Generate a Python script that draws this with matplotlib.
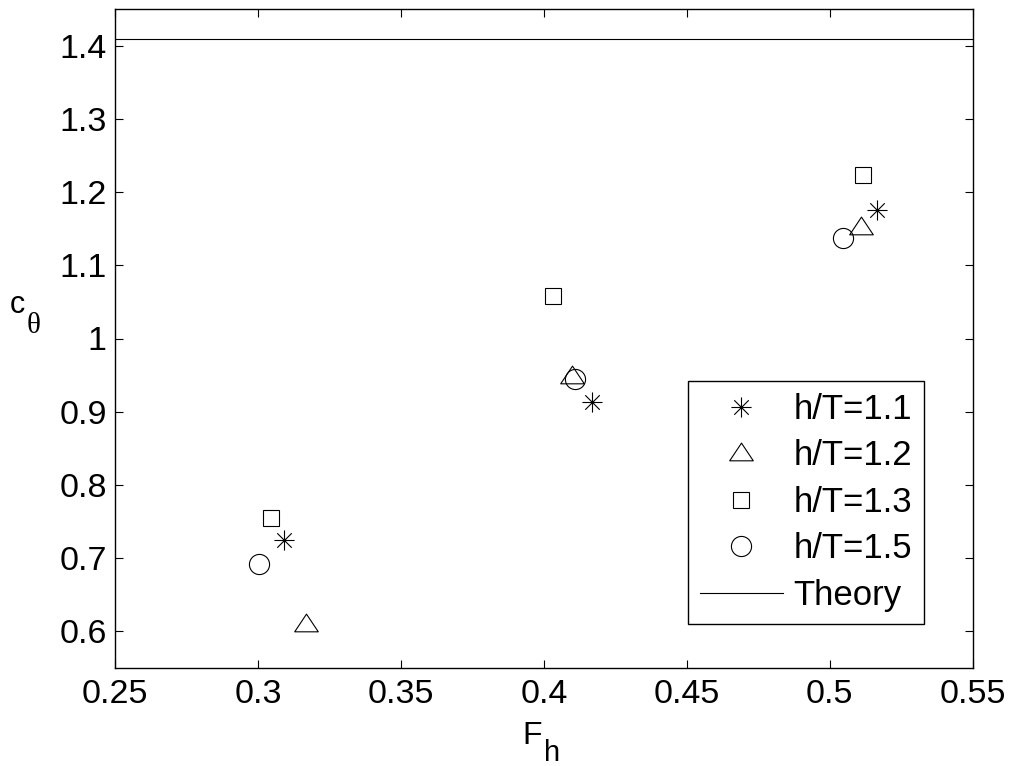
"""Recreation of the c_theta vs F_h scatter with theory line."""

import matplotlib

matplotlib.use("Agg")
import matplotlib.pyplot as plt
from matplotlib.path import Path
from matplotlib.ticker import FuncFormatter

# data
fh_11 = [0.309, 0.417, 0.5167]
c_11 = [0.724, 0.913, 1.175]

fh_12 = [0.3167, 0.410, 0.5108]
c_12 = [0.610, 0.949, 1.153]

fh_13 = [0.3047, 0.4033, 0.5115]
c_13 = [0.754, 1.0586, 1.224]

fh_15 = [0.3005, 0.4109, 0.5045]
c_15 = [0.692, 0.945, 1.137]

theory_c = 1.41
labels = ["h/T=1.1", "h/T=1.2", "h/T=1.3", "h/T=1.5", "Theory"]

W, H = 1011, 766
plt.rcParams["font.family"] = ["Liberation Sans", "DejaVu Sans"]

# MATLAB-style asterisk and wide triangle
d = 0.72
asterisk = Path(
    [(-1, 0), (1, 0), (0, -1), (0, 1), (-d, -d), (d, d), (-d, d), (d, -d)],
    [Path.MOVETO, Path.LINETO] * 4,
)
triangle = Path(
    [(-1, -0.62), (1, -0.62), (0, 0.88), (-1, -0.62)],
    [Path.MOVETO, Path.LINETO, Path.LINETO, Path.CLOSEPOLY],
)

fig = plt.figure(figsize=(W / 100, H / 100), dpi=100)
ax = fig.add_axes([115 / W, 1 - 667.7 / H, (972.7 - 115) / W, (667.7 - 9.3) / H])

style = dict(linestyle="none", color="black", markerfacecolor="none", markeredgewidth=0.8)
ax.plot(fh_11, c_11, marker=asterisk, markersize=14.5, label=labels[0], **style)
ax.plot(fh_12, c_12, marker=triangle, markersize=17, label=labels[1], **style)
ax.plot(fh_13, c_13, marker="s", markersize=12, label=labels[2], **style)
ax.plot(fh_15, c_15, marker="o", markersize=14.5, label=labels[3], **style)
ax.axhline(theory_c, color="black", linewidth=0.8, label=labels[4])

ax.set_xlim(0.25, 0.55)
ax.set_ylim(0.55, 1.45)
ax.set_xticks([0.25, 0.3, 0.35, 0.4, 0.45, 0.5, 0.55])
ax.set_yticks([0.6, 0.7, 0.8, 0.9, 1.0, 1.1, 1.2, 1.3, 1.4])
ax.xaxis.set_major_formatter(FuncFormatter(lambda v, _: f"{v:g}"))
ax.yaxis.set_major_formatter(FuncFormatter(lambda v, _: f"{v:g}"))
ax.tick_params(direction="in", length=6, width=0.8, labelsize=24.5,
               top=True, right=True)
ax.tick_params(axis="x", pad=8)
ax.tick_params(axis="y", pad=6)
for spine in ax.spines.values():
    spine.set_linewidth(1.0)

# axis labels with MATLAB-like large, low subscripts
fig.text(10 / W, 1 - 313 / H, "c", fontsize=22, ha="left", va="baseline")
fig.text(27 / W, 1 - 333 / H, "\u03b8", fontsize=21, ha="left", va="baseline",
         family=["Liberation Serif", "DejaVu Serif"])
fig.text(522 / W, 1 - 744 / H, "F", fontsize=23, ha="left", va="baseline")
fig.text(544 / W, 1 - 761 / H, "h", fontsize=21, ha="left", va="baseline")

leg = ax.legend(
    loc="upper left",
    bbox_to_anchor=((687.7 - 115) / 857.7, (667.7 - 381) / 658.4),
    fontsize=25,
    frameon=True,
    fancybox=False,
    framealpha=1,
    edgecolor="black",
    borderaxespad=0,
    handlelength=2.4,
    handletextpad=0.3,
    labelspacing=0.39,
    borderpad=0.34,
)
leg.get_frame().set_linewidth(1.0)

fig.savefig("out.png", dpi=100)
